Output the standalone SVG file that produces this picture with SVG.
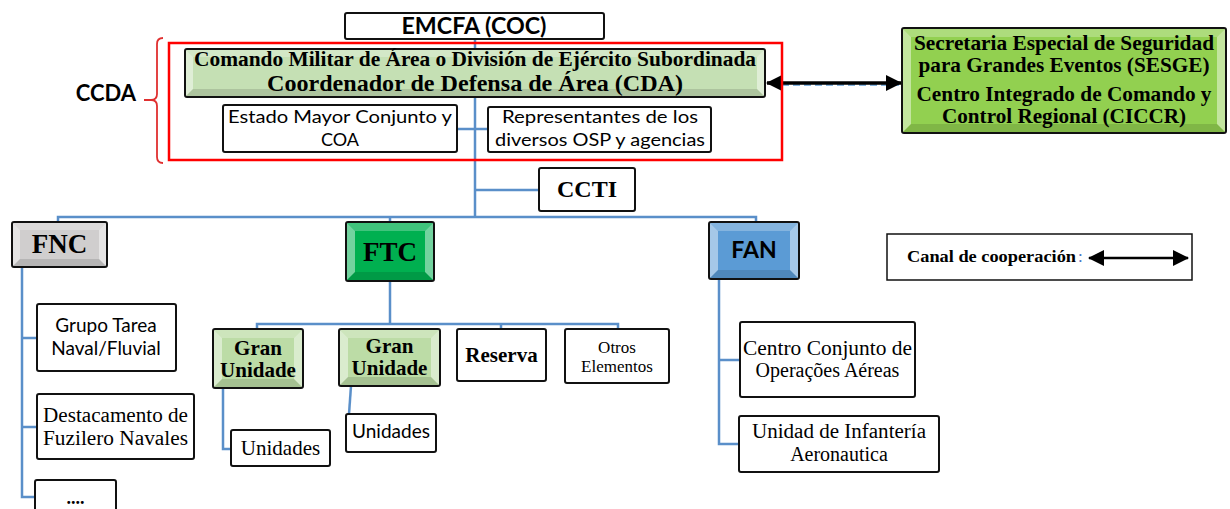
<svg xmlns="http://www.w3.org/2000/svg" width="1230" height="509" viewBox="0 0 1230 509">
<style>
.box{fill:#fff;stroke:#111;stroke-width:2}
.bx{stroke:#111;stroke-width:2}
.hl{fill:#fff;opacity:.45}
.ht{fill:#fff;opacity:.25}
.hb{fill:#000;opacity:.12}
.ln{fill:none;stroke:#5a8fc9;stroke-width:2.5}
.sans{font-family:Lato,"Open Sans","Liberation Sans",sans-serif;fill:#000}
.serif{font-family:"Liberation Serif","Times New Roman",serif;fill:#000}
.b{font-weight:bold}
text{text-anchor:middle}
</style>
<defs>
<marker id="ah" viewBox="0 0 16 16" refX="15" refY="8" markerWidth="16" markerHeight="16" markerUnits="userSpaceOnUse" orient="auto-start-reverse">
<path d="M0,0 L16,8 L0,16 Z" fill="#000"/>
</marker>
</defs>
<rect width="1230" height="509" fill="#fff"/>

<g id="connectors">
<path class="ln" d="M475,39 V217"/>
<path class="ln" d="M457,129 H488"/>
<path class="ln" d="M475,190 H539"/>
<path class="ln" d="M58,222 V217 H756 V222"/>
<path class="ln" d="M390,217 V222"/>
<path class="ln" d="M22,267 V497 H35"/>
<path class="ln" d="M22,338 H37"/>
<path class="ln" d="M22,427 H37"/>
<path class="ln" d="M390,281 V324"/>
<path class="ln" d="M257,329 V324 H618 V329"/>
<path class="ln" d="M501,324 V329"/>
<path class="ln" d="M223,388 V449 H231"/>
<path class="ln" d="M351,386 L349,414"/>
<path class="ln" d="M719,279 V444 H739"/>
<path class="ln" d="M719,360 H740"/>
<path d="M782,85 H902" fill="none" stroke="#5b9bd5" stroke-width="1.5" stroke-dasharray="7 4"/>
<path d="M767,83 H901" fill="none" stroke="#000" stroke-width="3.5" marker-start="url(#ah)" marker-end="url(#ah)"/>
</g>

<g id="emcfa">
<rect class="box" x="345" y="13" width="259" height="26" rx="2"/>
<text class="sans b" x="474" y="34" font-size="22" textLength="145" lengthAdjust="spacingAndGlyphs">EMCFA (COC)</text>
</g>

<g id="ccda">
<rect x="169" y="43" width="613" height="117" fill="none" stroke="#f00" stroke-width="2.5"/>
<path d="M163,38 Q157,38 157,44 V94 Q157,100 151,100 H144 M151,100 Q157,100 157,106 V157 Q157,163 163,163" fill="none" stroke="#e03030" stroke-width="1.8"/>
<text class="sans b" x="106" y="101" font-size="22">CCDA</text>
</g>

<g id="cda">
<rect class="bx" x="185" y="49" width="580" height="48" rx="2" fill="#c5e0b4"/>
<polygon class="hl" points="186,50 193,57 193,89 186,96"/>
<polygon class="hl" points="764,50 757,57 757,89 764,96"/>
<polygon class="ht" points="186,50 764,50 757,57 193,57"/>
<polygon class="hb" points="186,96 764,96 757,89 193,89"/>
<text class="serif b" x="475" y="66" font-size="20" textLength="562" lengthAdjust="spacingAndGlyphs">Comando Militar de Área o División de Ejército Subordinada</text>
<text class="serif b" x="475" y="91" font-size="24" textLength="416" lengthAdjust="spacingAndGlyphs">Coordenador de Defensa de Área (CDA)</text>
</g>

<g id="estado-mayor">
<rect class="box" x="223" y="105" width="234" height="47" rx="2"/>
<text class="sans" x="340" y="123" font-size="18" textLength="224" lengthAdjust="spacingAndGlyphs">Estado Mayor Conjunto y</text>
<text class="sans" x="340" y="146" font-size="18">COA</text>
</g>

<g id="representantes">
<rect class="box" x="488" y="107" width="223" height="45" rx="2"/>
<text class="sans" x="600" y="123" font-size="18" textLength="196" lengthAdjust="spacingAndGlyphs">Representantes de los</text>
<text class="sans" x="600" y="146" font-size="18" textLength="210" lengthAdjust="spacingAndGlyphs">diversos OSP y agencias</text>
</g>

<g id="sesge">
<rect class="bx" x="902" y="28" width="324" height="105" rx="2" fill="#92d050"/>
<polygon class="hl" points="903,29 911,37 911,124 903,132"/>
<polygon class="hl" points="1225,29 1217,37 1217,124 1225,132"/>
<polygon class="ht" points="903,29 1225,29 1217,37 911,37"/>
<polygon class="hb" points="903,132 1225,132 1217,124 911,124"/>
<text class="serif b" x="1064" y="50" font-size="21" textLength="300" lengthAdjust="spacingAndGlyphs">Secretaria Especial de Seguridad</text>
<text class="serif b" x="1064" y="72" font-size="21" textLength="291" lengthAdjust="spacingAndGlyphs">para Grandes Eventos (SESGE)</text>
<text class="serif b" x="1064" y="101" font-size="21" textLength="295" lengthAdjust="spacingAndGlyphs">Centro Integrado de Comando y</text>
<text class="serif b" x="1064" y="123" font-size="21" textLength="244" lengthAdjust="spacingAndGlyphs">Control Regional (CICCR)</text>
</g>

<g id="ccti">
<rect class="box" x="539" y="168" width="96" height="43" rx="2"/>
<text class="serif b" x="587" y="197" font-size="24">CCTI</text>
</g>

<g id="fnc">
<rect class="bx" x="12" y="222" width="95" height="45" rx="2" fill="#d0cece"/>
<polygon class="hl" points="13,223 20,230 20,259 13,266"/>
<polygon class="hl" points="106,223 99,230 99,259 106,266"/>
<polygon class="ht" points="13,223 106,223 99,230 20,230"/>
<polygon class="hb" points="13,266 106,266 99,259 20,259"/>
<text class="serif b" x="59.5" y="253" font-size="27">FNC</text>
</g>

<g id="ftc">
<rect class="bx" x="346" y="222" width="88" height="59" rx="2" fill="#00b050"/>
<polygon class="hl" points="347,223 355,231 355,272 347,280"/>
<polygon class="hl" points="433,223 425,231 425,272 433,280"/>
<polygon class="ht" points="347,223 433,223 425,231 355,231"/>
<polygon class="hb" points="347,280 433,280 425,272 355,272"/>
<text class="serif b" x="390" y="261" font-size="27">FTC</text>
</g>

<g id="fan">
<rect class="bx" x="709" y="222" width="90" height="57" rx="2" fill="#5b9bd5"/>
<polygon class="hl" points="710,223 718,231 718,270 710,278"/>
<polygon class="hl" points="798,223 790,231 790,270 798,278"/>
<polygon class="ht" points="710,223 798,223 790,231 718,231"/>
<polygon class="hb" points="710,278 798,278 790,270 718,270"/>
<text class="sans b" x="754" y="258" font-size="23">FAN</text>
</g>

<g id="legend">
<rect x="887" y="234" width="305" height="46" fill="#fff" stroke="#111" stroke-width="1.5"/>
<text class="serif b" x="907" y="262" font-size="17" style="text-anchor:start" textLength="169" lengthAdjust="spacingAndGlyphs">Canal de cooperación</text>
<text class="serif" x="1078" y="262" font-size="17" style="text-anchor:start;fill:#4472c4">:</text>
<path d="M1089,258 H1188" fill="none" stroke="#000" stroke-width="2.5" marker-start="url(#ah)" marker-end="url(#ah)"/>
</g>

<g id="grupo-tarea">
<rect class="box" x="37" y="304" width="139" height="67" rx="2"/>
<text class="sans" x="106" y="332" font-size="19">Grupo Tarea</text>
<text class="sans" x="106" y="355" font-size="19">Naval/Fluvial</text>
</g>

<g id="destacamento">
<rect class="box" x="37" y="394" width="157" height="65" rx="2"/>
<text class="serif" x="115.5" y="422" font-size="20" textLength="145" lengthAdjust="spacingAndGlyphs">Destacamento de</text>
<text class="serif" x="115.5" y="445" font-size="20" textLength="145" lengthAdjust="spacingAndGlyphs">Fuzilero Navales</text>
</g>

<g id="etc">
<rect class="box" x="35" y="480" width="81" height="40" rx="2"/>
<text class="serif b" x="75.5" y="504" font-size="18">....</text>
</g>

<g id="gran-unidade-1">
<rect class="bx" x="213" y="329" width="90" height="59" rx="2" fill="#bcdca6"/>
<polygon class="hl" points="214,330 222,338 222,379 214,387"/>
<polygon class="hl" points="302,330 294,338 294,379 302,387"/>
<polygon class="ht" points="214,330 302,330 294,338 222,338"/>
<polygon class="hb" points="214,387 302,387 294,379 222,379"/>
<text class="serif b" x="258" y="355" font-size="21">Gran</text>
<text class="serif b" x="258" y="377" font-size="21">Unidade</text>
</g>

<g id="gran-unidade-2">
<rect class="bx" x="339" y="329" width="101" height="57" rx="2" fill="#bcdca6"/>
<polygon class="hl" points="340,330 348,338 348,377 340,385"/>
<polygon class="hl" points="439,330 431,338 431,377 439,385"/>
<polygon class="ht" points="340,330 439,330 431,338 348,338"/>
<polygon class="hb" points="340,385 439,385 431,377 348,377"/>
<text class="serif b" x="389.5" y="353" font-size="21">Gran</text>
<text class="serif b" x="389.5" y="375" font-size="21">Unidade</text>
</g>

<g id="reserva">
<rect class="box" x="457" y="329" width="89" height="52" rx="2"/>
<text class="serif b" x="501.5" y="362" font-size="21">Reserva</text>
</g>

<g id="otros">
<rect class="box" x="565" y="329" width="104" height="54" rx="2"/>
<text class="serif" x="617" y="353" font-size="17">Otros</text>
<text class="serif" x="617" y="372" font-size="17">Elementos</text>
</g>

<g id="unidades-1">
<rect class="box" x="231" y="430" width="99" height="36" rx="2"/>
<text class="serif" x="280.5" y="455" font-size="21">Unidades</text>
</g>

<g id="unidades-2">
<rect class="box" x="346" y="414" width="90" height="38" rx="2"/>
<text class="sans" x="391" y="438" font-size="19">Unidades</text>
</g>

<g id="centro-conjunto">
<rect class="box" x="740" y="322" width="175" height="75" rx="2"/>
<text class="serif" x="827.5" y="355" font-size="20" textLength="169" lengthAdjust="spacingAndGlyphs">Centro Conjunto de</text>
<text class="serif" x="827.5" y="377" font-size="20">Operações Aéreas</text>
</g>

<g id="infanteria">
<rect class="box" x="739" y="416" width="200" height="56" rx="2"/>
<text class="serif" x="839" y="438" font-size="20" textLength="174" lengthAdjust="spacingAndGlyphs">Unidad de Infantería</text>
<text class="serif" x="839" y="461" font-size="20">Aeronautica</text>
</g>
</svg>
